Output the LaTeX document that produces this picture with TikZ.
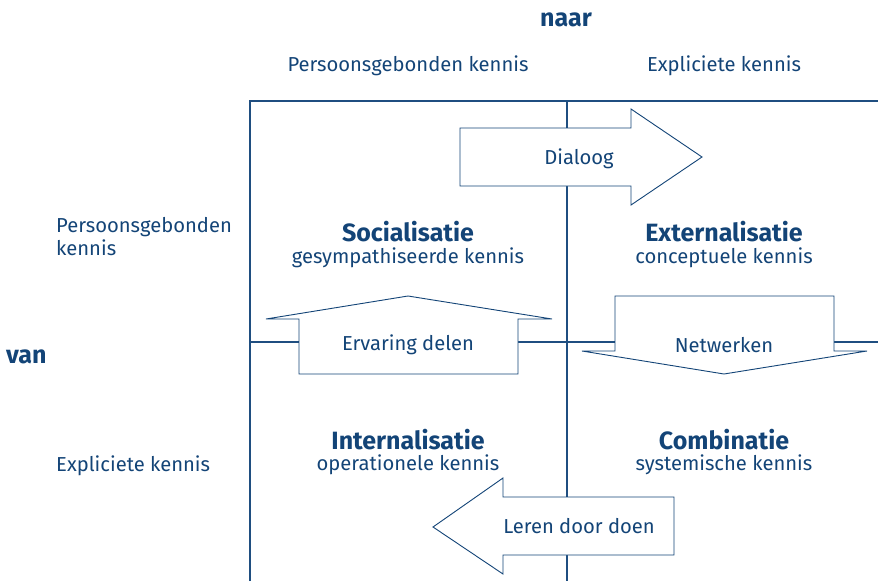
\documentclass[tikz,border=0pt]{standalone}
\usepackage{fontspec}
\setmainfont{Fira Sans}
\definecolor{dblue}{HTML}{134477}
\definecolor{lblue}{HTML}{1F4E80}
\begin{document}
\begin{tikzpicture}[x=1pt,y=-1pt,
  lbl/.style={text=dblue,font=\fontsize{20.2}{23}\selectfont,inner sep=0pt,yshift=-2pt},
  ttl/.style={text=dblue,font=\fontsize{25}{28}\selectfont\bfseries,inner sep=0pt,yshift=-1.5pt},
  frame/.style={draw=lblue,line width=1.2pt},
  arr/.style={draw=dblue,fill=white,line width=0.9pt,line join=miter}]
\useasboundingbox (0,0) rectangle (878,581);
% frame lines
\draw[frame] (250,581) -- (250,101) -- (878,101);
\draw[frame] (567,101) -- (567,581);
\draw[frame] (250,342) -- (878,342);
% Dialoog arrow (right)
\draw[arr] (460,128) -- (631,128) -- (631,109) -- (702,157) -- (631,205) -- (631,186) -- (460,186) -- cycle;
% Ervaring delen (up)
\draw[arr] (299,374) -- (299,319) -- (266,319) -- (408,296) -- (552,319) -- (518,319) -- (518,374) -- cycle;
% Netwerken (down)
\draw[arr] (615,296) -- (834,296) -- (834,351) -- (867,351) -- (724,374) -- (582,351) -- (615,351) -- cycle;
% Leren door doen (left)
\draw[arr] (674,497) -- (674,555) -- (503,555) -- (503,574) -- (433,527) -- (503,478) -- (503,497) -- cycle;
% texts
\node[ttl] (naar) at (566,18) {naar};
\node[lbl] (cpg) at (408,64) {Persoonsgebonden kennis};
\node[lbl] (cex) at (724,64) {Expliciete kennis};
\node[lbl,anchor=west,align=left] (rpg) at (56,235) {Persoonsgebonden\\kennis};
\node[ttl,anchor=west] (van) at (6,355) {van};
\node[lbl,anchor=west] (rex) at (56,464) {Expliciete kennis};
\node[ttl] (soc) at (408,230) {Socialisatie};
\node[lbl] (socs) at (408,256) {gesympathiseerde kennis};
\node[ttl] (ext) at (724,230) {Externalisatie};
\node[lbl] (exts) at (724,256) {conceptuele kennis};
\node[ttl] (int) at (408,438) {Internalisatie};
\node[lbl] (ints) at (408,463) {operationele kennis};
\node[ttl] (com) at (724,438) {Combinatie};
\node[lbl] (coms) at (724,463) {systemische kennis};
\node[lbl] (dia) at (579,157) {Dialoog};
\node[lbl] (erv) at (408,343) {Ervaring delen};
\node[lbl] (net) at (724,343) {Netwerken};
\node[lbl] (ler) at (579,524) {Leren door doen};
\end{tikzpicture}
\end{document}
